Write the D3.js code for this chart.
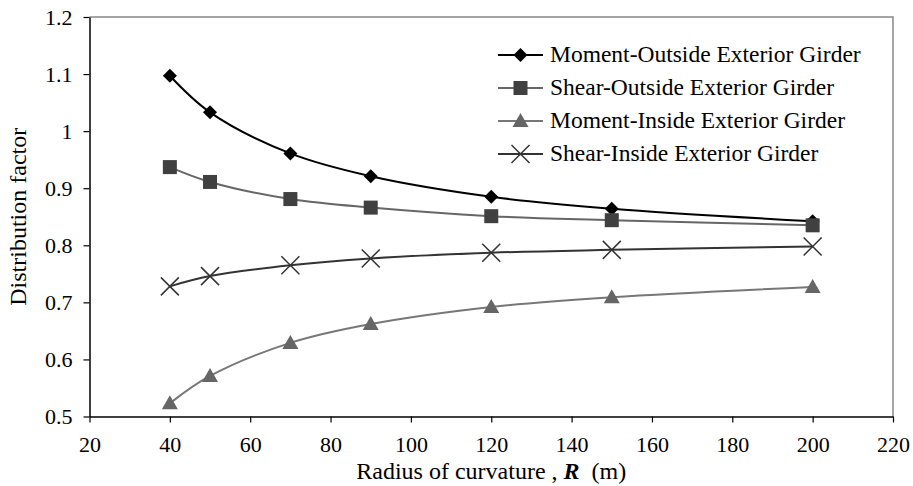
<!DOCTYPE html>
<html>
<head>
<meta charset="utf-8">
<script src="https://cdn.jsdelivr.net/npm/d3@7"></script>
<style>
  body { margin: 0; background: #fff; }
</style>
</head>
<body>
<svg id="chart" width="913" height="486"></svg>
<script>
// radius of curvature R (m)
var radius = [40, 50, 70, 90, 120, 150, 200];
var momentOutside = [1.097, 1.033, 0.961, 0.921, 0.885, 0.864, 0.842];
var shearOutside  = [0.937, 0.911, 0.881, 0.866, 0.851, 0.844, 0.835];
var momentInside  = [0.523, 0.571, 0.629, 0.662, 0.692, 0.709, 0.727];
var shearInside   = [0.728, 0.746, 0.765, 0.777, 0.787, 0.792, 0.798];
var seriesNames = ["Moment-Outside Exterior Girder", "Shear-Outside Exterior Girder",
                   "Moment-Inside Exterior Girder", "Shear-Inside Exterior Girder"];
var xTicks = [20, 40, 60, 80, 100, 120, 140, 160, 180, 200, 220];
var yTicks = [0.5, 0.6, 0.7, 0.8, 0.9, 1.0, 1.1, 1.2];

var serif = "'Liberation Serif', 'DejaVu Serif', 'Times New Roman', serif";
var svg = d3.select("#chart");
var pLeft = 89.5, pRight = 893, pTop = 17, pBottom = 416.5;

var x = d3.scaleLinear().domain([20, 220]).range([pLeft, pRight]);
var y = d3.scaleLinear().domain([0.5, 1.2]).range([pBottom, pTop]);

// plot area border (top / right)
svg.append("path")
  .attr("d", "M" + pLeft + "," + pTop + "H" + pRight + "V" + pBottom)
  .attr("fill", "none").attr("stroke", "#888").attr("stroke-width", 1.5);

// axes
var xAxis = svg.append("g")
  .attr("transform", "translate(0," + pBottom + ")")
  .call(d3.axisBottom(x).tickValues(xTicks).tickSize(6).tickSizeOuter(0));
xAxis.selectAll("text").attr("font-size", 22).attr("y", 9).attr("dy", "1.2em").attr("fill", "#000");

var yAxis = svg.append("g")
  .attr("transform", "translate(" + pLeft + ",0)")
  .call(d3.axisLeft(y).tickValues(yTicks).tickSize(6).tickSizeOuter(0)
    .tickFormat(function(d){ return String(+d.toFixed(1)); }));
yAxis.selectAll("text").attr("font-size", 22).attr("x", -17).attr("dy", "0.34em").attr("fill", "#000");
svg.selectAll(".domain").attr("stroke", "#000").attr("stroke-width", 1.5);
svg.selectAll(".tick line").attr("stroke", "#000").attr("stroke-width", 1.2);

// axis titles
var xt = svg.append("text")
  .attr("x", (pLeft + pRight) / 2).attr("y", 479)
  .attr("text-anchor", "middle").attr("font-size", 24);
xt.append("tspan").text("Radius of curvature , ");
xt.append("tspan").attr("font-weight", "bold").attr("font-style", "italic").text("R");
xt.append("tspan").text("\u00a0 (m)");

svg.append("text")
  .attr("transform", "translate(18," + ((pTop + pBottom) / 2) + ") rotate(-90)")
  .attr("text-anchor", "middle").attr("dy", "0.35em").attr("font-size", 24)
  .text("Distribution factor");

// series
var series = [
  { name: seriesNames[0], values: momentOutside, line: "#000", fill: "#000", sym: "diamond" },
  { name: seriesNames[1], values: shearOutside,  line: "#666", fill: "#404040", sym: "square" },
  { name: seriesNames[2], values: momentInside,  line: "#777", fill: "#666", sym: "triangle" },
  { name: seriesNames[3], values: shearInside,   line: "#333", fill: "#333", sym: "cross" }
];

var line = d3.line()
  .x(function(d){ return x(d[0]); })
  .y(function(d){ return y(d[1]); })
  .curve(d3.curveCatmullRom.alpha(0.5));

function drawMarker(g, sym, fill, cx, cy) {
  if (sym === "diamond") {
    g.append("path").attr("d", "M" + cx + "," + (cy - 7) + "L" + (cx + 7) + "," + cy + "L" + cx + "," + (cy + 7) + "L" + (cx - 7) + "," + cy + "Z")
      .attr("fill", fill);
  } else if (sym === "square") {
    g.append("rect").attr("x", cx - 7).attr("y", cy - 7).attr("width", 14).attr("height", 14)
      .attr("fill", fill);
  } else if (sym === "triangle") {
    g.append("path").attr("d", "M" + cx + "," + (cy - 8) + "L" + (cx + 8) + "," + (cy + 6) + "L" + (cx - 8) + "," + (cy + 6) + "Z")
      .attr("fill", fill);
  } else {
    g.append("path").attr("d", "M" + (cx - 9) + "," + (cy - 9) + "L" + (cx + 9) + "," + (cy + 9) + "M" + (cx + 9) + "," + (cy - 9) + "L" + (cx - 9) + "," + (cy + 9))
      .attr("stroke", fill).attr("stroke-width", 1.5).attr("fill", "none");
  }
}

series.forEach(function(s){
  var pts = radius.map(function(r, i){ return [r, s.values[i]]; });
  svg.append("path").datum(pts)
    .attr("d", line)
    .attr("fill", "none").attr("stroke", s.line).attr("stroke-width", 2);
  var g = svg.append("g");
  pts.forEach(function(p){ drawMarker(g, s.sym, s.fill, x(p[0]), y(p[1])); });
});

// legend
var legend = svg.append("g");
series.forEach(function(s, i){
  var ly = 55 + i * 33;
  legend.append("line").attr("x1", 498).attr("x2", 543).attr("y1", ly).attr("y2", ly)
    .attr("stroke", s.line).attr("stroke-width", 2);
  drawMarker(legend, s.sym, s.fill, 520.5, ly);
  legend.append("text").attr("x", 550).attr("y", ly).attr("dy", "0.3em")
    .attr("font-size", 23.5).text(s.name);
});

// same serif face on every label
svg.selectAll("g").attr("font-family", null);
svg.selectAll("text").style("font-family", serif);
</script>
</body>
</html>
